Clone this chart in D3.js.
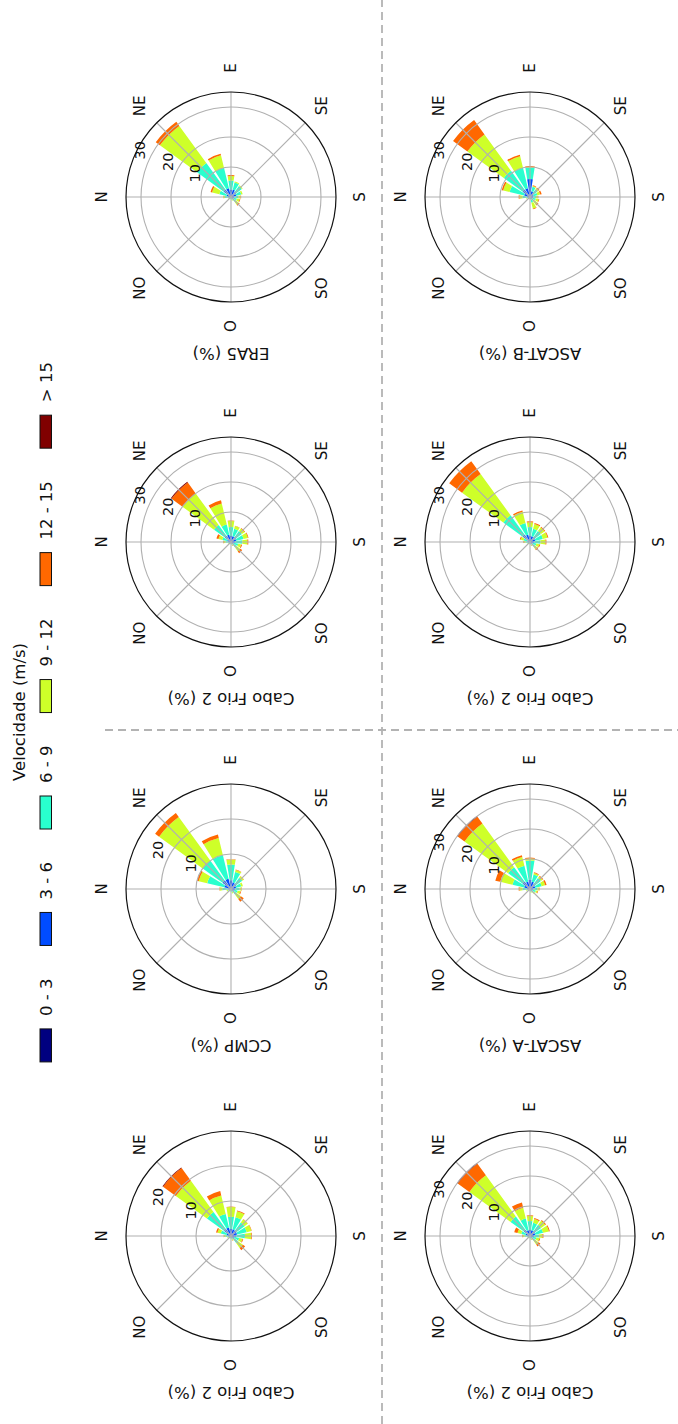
<!DOCTYPE html>
<meta charset="utf-8" />
<style>
  body {
    background: #fff;
    margin: 0px;
  }
  text {
    font-family: "DejaVu Sans", sans-serif;
    fill: #111;
  }
  .grid {
    fill: none;
    stroke: #b0b0b0;
    stroke-width: 1.1px;
  }
  .spine {
    fill: none;
    stroke: #111;
    stroke-width: 1.2px;
  }
  .sep {
    stroke: #b3b3b3;
    stroke-width: 1.8px;
    stroke-dasharray: 8, 5;
  }
</style>
<body>
<script src="https://d3js.org/d3.v7.min.js"></script>
<script>
  // the figure is drawn in landscape (W x H) and turned onto the portrait page
  var W = 1424,
    H = 678;

  var bins = ["0 - 3", "3 - 6", "6 - 9", "9 - 12", "12 - 15", "> 15"];
  var colors = ["#000080", "#004cff", "#29ffce", "#ceff29", "#ff6800", "#800000"];
  var legendTitle = "Velocidade (m/s)";
  var compass = ["N", "NE", "E", "SE", "S", "SO", "O", "NO"];

  // frequency (%) per direction (N, NNE, NE ... NNW), one column per speed bin
  var caboFrio1 = [
    [0.3, 0.6, 0.7, 0.4, 0.1, 0],
    [0.4, 0.9, 1.7, 1.0, 0.4, 0],
    [0.5, 2.0, 6.0, 11.0, 4.5, 0.2],
    [0.5, 2.0, 4.0, 5.4, 1.3, 0],
    [0.4, 1.6, 3.5, 2.8, 0.1, 0],
    [0.4, 1.6, 3.5, 1.8, 0.2, 0],
    [0.4, 1.6, 2.8, 1.1, 0.1, 0],
    [0.4, 1.4, 2.8, 1.4, 0.1, 0],
    [0.3, 1.2, 2.5, 1.8, 0.2, 0],
    [0.3, 0.7, 1.4, 1.0, 0.2, 0],
    [0.2, 0.7, 1.6, 1.7, 0.8, 0],
    [0.2, 0.3, 0.5, 0.3, 0.1, 0],
    [0.2, 0.2, 0.3, 0.1, 0, 0],
    [0.2, 0.2, 0.2, 0.1, 0, 0],
    [0.2, 0.2, 0.3, 0.1, 0, 0],
    [0.2, 0.3, 0.4, 0.2, 0, 0],
  ];
  var ccmp = [
    [0.3, 0.7, 1.5, 0.7, 0.1, 0],
    [0.5, 1.5, 5.0, 2.5, 0.5, 0],
    [0.6, 2.4, 7.0, 15.4, 1.4, 0],
    [0.5, 2.5, 7.0, 5.0, 1.0, 0],
    [0.5, 2.0, 4.5, 1.4, 0.1, 0],
    [0.4, 1.6, 3.0, 0.6, 0.1, 0],
    [0.4, 1.4, 2.2, 0.5, 0.1, 0],
    [0.3, 1.2, 1.5, 0.5, 0, 0],
    [0.3, 0.9, 1.3, 0.5, 0.1, 0],
    [0.3, 0.7, 1.0, 0.8, 0.2, 0],
    [0.2, 0.6, 1.2, 1.5, 1.0, 0],
    [0.2, 0.3, 0.5, 0.3, 0, 0],
    [0.2, 0.2, 0.3, 0.1, 0, 0],
    [0.2, 0.2, 0.2, 0.1, 0, 0],
    [0.2, 0.2, 0.3, 0.1, 0, 0],
    [0.2, 0.3, 0.5, 0.3, 0, 0],
  ];
  var caboFrio2 = [
    [0.3, 0.6, 0.9, 0.6, 0.2, 0],
    [0.4, 0.9, 1.7, 1.3, 0.7, 0],
    [0.5, 2.0, 4.5, 13.0, 4.5, 0.3],
    [0.5, 2.0, 3.5, 7.2, 1.1, 0],
    [0.4, 1.6, 3.0, 2.0, 0.2, 0],
    [0.4, 1.6, 2.5, 1.0, 0.1, 0],
    [0.4, 1.6, 2.5, 1.1, 0.2, 0],
    [0.4, 1.4, 2.5, 1.5, 0.2, 0],
    [0.3, 1.2, 2.3, 1.7, 0.3, 0],
    [0.3, 0.7, 1.5, 1.0, 0.3, 0],
    [0.2, 0.7, 1.4, 1.5, 0.8, 0],
    [0.2, 0.3, 0.5, 0.3, 0.1, 0],
    [0.2, 0.2, 0.3, 0.1, 0, 0],
    [0.2, 0.2, 0.2, 0.1, 0, 0],
    [0.2, 0.2, 0.3, 0.1, 0, 0],
    [0.2, 0.3, 0.4, 0.2, 0, 0],
  ];
  var era5 = [
    [0.3, 0.7, 1.0, 0.5, 0.1, 0],
    [0.4, 1.1, 2.5, 2.5, 0.5, 0],
    [0.5, 2.5, 11.0, 15.3, 1.7, 0],
    [0.5, 2.5, 7.0, 4.3, 0.5, 0],
    [0.5, 2.0, 3.0, 1.5, 0.3, 0],
    [0.5, 2.0, 2.5, 0.3, 0, 0],
    [0.4, 1.6, 2.5, 0.3, 0, 0],
    [0.4, 1.4, 1.7, 0.5, 0, 0],
    [0.3, 0.9, 1.3, 0.7, 0.2, 0],
    [0.3, 0.7, 1.0, 1.0, 0.2, 0],
    [0.2, 0.6, 1.2, 1.2, 0.4, 0],
    [0.2, 0.3, 0.5, 0.3, 0, 0],
    [0.2, 0.2, 0.3, 0.1, 0, 0],
    [0.2, 0.2, 0.2, 0.1, 0, 0],
    [0.2, 0.2, 0.3, 0.1, 0, 0],
    [0.2, 0.3, 0.4, 0.2, 0, 0],
  ];
  var caboFrio3 = [
    [0.3, 0.6, 0.9, 0.6, 0.2, 0],
    [0.4, 1.1, 1.5, 1.3, 1.1, 0],
    [0.5, 2.0, 5.5, 17.0, 4.8, 0.3],
    [0.5, 1.5, 4.0, 3.7, 1.8, 0],
    [0.4, 1.6, 3.0, 1.7, 0.2, 0],
    [0.4, 1.6, 2.5, 1.3, 0.4, 0],
    [0.4, 1.6, 2.6, 1.7, 0.3, 0],
    [0.4, 1.4, 2.7, 2.0, 0.3, 0],
    [0.3, 1.1, 1.6, 1.2, 0.3, 0],
    [0.3, 0.7, 1.2, 1.0, 0.3, 0],
    [0.2, 0.6, 1.2, 1.5, 0.8, 0],
    [0.2, 0.3, 0.5, 0.3, 0.1, 0],
    [0.2, 0.2, 0.3, 0.1, 0, 0],
    [0.2, 0.2, 0.2, 0.1, 0, 0],
    [0.2, 0.2, 0.3, 0.1, 0, 0],
    [0.2, 0.3, 0.4, 0.2, 0, 0],
  ];
  var ascatA = [
    [0.3, 0.7, 1.5, 1.0, 0.3, 0],
    [0.5, 1.5, 4.0, 4.2, 1.7, 0],
    [0.6, 2.4, 6.0, 18.0, 2.8, 0.3],
    [0.5, 2.0, 5.5, 3.0, 0.6, 0],
    [0.5, 2.5, 6.5, 0.7, 0.3, 0],
    [0.5, 2.0, 2.5, 0.5, 0.2, 0],
    [0.4, 1.6, 2.5, 0.7, 0.3, 0],
    [0.4, 1.4, 2.2, 1.2, 0.5, 0],
    [0.3, 0.9, 1.3, 0.5, 0.2, 0],
    [0.3, 0.7, 1.0, 0.6, 0.2, 0],
    [0.2, 0.6, 0.7, 0.5, 0, 0],
    [0.2, 0.3, 0.5, 0.3, 0, 0],
    [0.2, 0.2, 0.3, 0.1, 0, 0],
    [0.2, 0.2, 0.2, 0.1, 0, 0],
    [0.2, 0.2, 0.3, 0.1, 0, 0],
    [0.2, 0.3, 0.5, 0.3, 0, 0],
  ];
  var caboFrio4 = [
    [0.3, 0.5, 0.7, 0.5, 0.2, 0],
    [0.3, 0.7, 1.2, 1.0, 0.3, 0],
    [0.5, 2.5, 8.0, 17.0, 5.3, 0],
    [0.5, 2.0, 4.0, 3.9, 0.4, 0],
    [0.5, 1.7, 2.8, 1.6, 0.3, 0],
    [0.4, 1.6, 2.5, 1.7, 0.3, 0],
    [0.4, 1.6, 2.5, 1.5, 0.3, 0],
    [0.4, 1.4, 2.6, 1.6, 0.3, 0],
    [0.3, 1.2, 2.0, 1.7, 0.3, 0],
    [0.3, 0.7, 1.2, 1.0, 0.3, 0],
    [0.2, 0.6, 1.2, 1.0, 0.4, 0],
    [0.2, 0.3, 0.5, 0.3, 0.1, 0],
    [0.2, 0.2, 0.3, 0.1, 0, 0],
    [0.2, 0.2, 0.2, 0.1, 0, 0],
    [0.2, 0.2, 0.3, 0.1, 0, 0],
    [0.2, 0.3, 0.4, 0.2, 0, 0],
  ];
  var ascatB = [
    [0.3, 0.7, 1.5, 1.0, 0.3, 0],
    [0.5, 1.5, 5.0, 2.2, 0.5, 0],
    [0.6, 2.4, 7.8, 15.0, 5.9, 0],
    [0.5, 2.5, 7.0, 4.0, 0.5, 0],
    [0.5, 5.5, 3.8, 0.2, 0.3, 0],
    [0.4, 1.6, 1.5, 0.3, 0.2, 0],
    [0.4, 1.1, 1.5, 0.6, 0.3, 0],
    [0.3, 0.9, 1.3, 1.0, 0.5, 0],
    [0.3, 0.7, 1.0, 0.6, 0.2, 0],
    [0.3, 0.7, 1.0, 1.0, 0.2, 0],
    [0.2, 0.6, 1.0, 1.4, 0.3, 0],
    [0.2, 0.6, 1.2, 2.0, 0.2, 0],
    [0.2, 0.2, 0.3, 0.1, 0, 0],
    [0.2, 0.2, 0.2, 0.1, 0, 0],
    [0.2, 0.2, 0.3, 0.1, 0, 0],
    [0.2, 0.3, 0.5, 0.3, 0, 0],
  ];

  var plots = [
    { title: "Cabo Frio 2 (%)", data: caboFrio1, rmax: 30, ticks: [10, 20] },
    { title: "CCMP (%)", data: ccmp, rmax: 30, ticks: [10, 20] },
    { title: "Cabo Frio 2 (%)", data: caboFrio2, rmax: 35, ticks: [10, 20, 30] },
    { title: "ERA5 (%)", data: era5, rmax: 35, ticks: [10, 20, 30] },
    { title: "Cabo Frio 2 (%)", data: caboFrio3, rmax: 35, ticks: [10, 20, 30] },
    { title: "ASCAT-A (%)", data: ascatA, rmax: 35, ticks: [10, 20, 30] },
    { title: "Cabo Frio 2 (%)", data: caboFrio4, rmax: 35, ticks: [10, 20, 30] },
    { title: "ASCAT-B (%)", data: ascatB, rmax: 35, ticks: [10, 20, 30] },
  ];

  var colX = [188, 535, 882, 1227],
    rowY = [231, 530],
    R = 105,
    opening = 0.8,
    sector = (2 * Math.PI) / 16;

  var svg = d3
    .select("body")
    .append("svg")
    .attr("width", H)
    .attr("height", W);

  var fig = svg
    .append("g")
    .attr("transform", "translate(0," + W + ") rotate(-90)");

  // dashed separators
  fig.append("line").attr("class", "sep")
    .attr("x1", 0).attr("x2", W).attr("y1", 382).attr("y2", 382);
  fig.append("line").attr("class", "sep")
    .attr("x1", 694).attr("x2", 694).attr("y1", 105).attr("y2", H);

  plots.forEach(function (p, i) {
    var cx = colX[i % 4],
      cy = rowY[Math.floor(i / 4)];
    var r = d3.scaleLinear().domain([0, p.rmax]).range([0, R]);
    var g = fig.append("g").attr("transform", "translate(" + cx + "," + cy + ")");

    var arc = d3.arc();
    p.data.forEach(function (row, d) {
      var a = d * sector,
        acc = 0;
      row.forEach(function (v, b) {
        if (v <= 0) return;
        g.append("path")
          .attr("fill", colors[b])
          .attr("d", arc({
            innerRadius: r(acc),
            outerRadius: r(acc + v),
            startAngle: a - (sector * opening) / 2,
            endAngle: a + (sector * opening) / 2,
          }));
        acc += v;
      });
    });

    g.selectAll(".ring")
      .data(p.ticks)
      .enter()
      .append("circle")
      .attr("class", "grid")
      .attr("r", function (t) { return r(t); });

    g.selectAll(".spoke")
      .data(d3.range(8))
      .enter()
      .append("line")
      .attr("class", "grid")
      .attr("x2", function (k) { return R * Math.sin((k * Math.PI) / 4); })
      .attr("y2", function (k) { return -R * Math.cos((k * Math.PI) / 4); });

    g.append("circle").attr("class", "spine").attr("r", R);

    var la = Math.PI / 8;
    g.selectAll(".rlab")
      .data(p.ticks)
      .enter()
      .append("text")
      .attr("x", function (t) { return r(t) * Math.sin(la) + 3; })
      .attr("y", function (t) { return -r(t) * Math.cos(la) - 3; })
      .style("font-size", "14.5px")
      .text(function (t) { return t; });

    g.selectAll(".clab")
      .data(compass)
      .enter()
      .append("text")
      .attr("x", function (c, k) { return 129 * Math.sin((k * Math.PI) / 4); })
      .attr("y", function (c, k) { return -129 * Math.cos((k * Math.PI) / 4); })
      .attr("text-anchor", "middle")
      .attr("dominant-baseline", "central")
      .style("font-size", "15px")
      .text(function (c) { return c; });

    g.append("text")
      .attr("transform", "translate(-156,0) rotate(-90)")
      .attr("text-anchor", "middle")
      .attr("dominant-baseline", "central")
      .style("font-size", "16.5px")
      .text(p.title);
  });

  // legend across the top of the landscape figure
  var leg = fig.append("g");
  leg.append("text")
    .attr("x", W / 2)
    .attr("y", 19)
    .attr("text-anchor", "middle")
    .attr("dominant-baseline", "central")
    .style("font-size", "16.5px")
    .text(legendTitle);

  var items = leg.selectAll(".item").data(bins).enter().append("g");
  items.append("rect")
    .attr("width", 33).attr("height", 11.5)
    .attr("y", 40)
    .attr("fill", function (d, i) { return colors[i]; })
    .attr("stroke", "#111").attr("stroke-width", 1);
  items.append("text")
    .attr("x", 46).attr("y", 46)
    .attr("dominant-baseline", "central")
    .style("font-size", "16.5px")
    .text(function (d) { return d; });

  var widths = [];
  items.each(function () {
    widths.push(46 + d3.select(this).select("text").node().getComputedTextLength());
  });
  var total = d3.sum(widths) + 33 * (bins.length - 1),
    x0 = W / 2 - total / 2;
  items.attr("transform", function (d, i) {
    var x = x0 + d3.sum(widths.slice(0, i)) + 33 * i;
    return "translate(" + x + ",0)";
  });
</script>
